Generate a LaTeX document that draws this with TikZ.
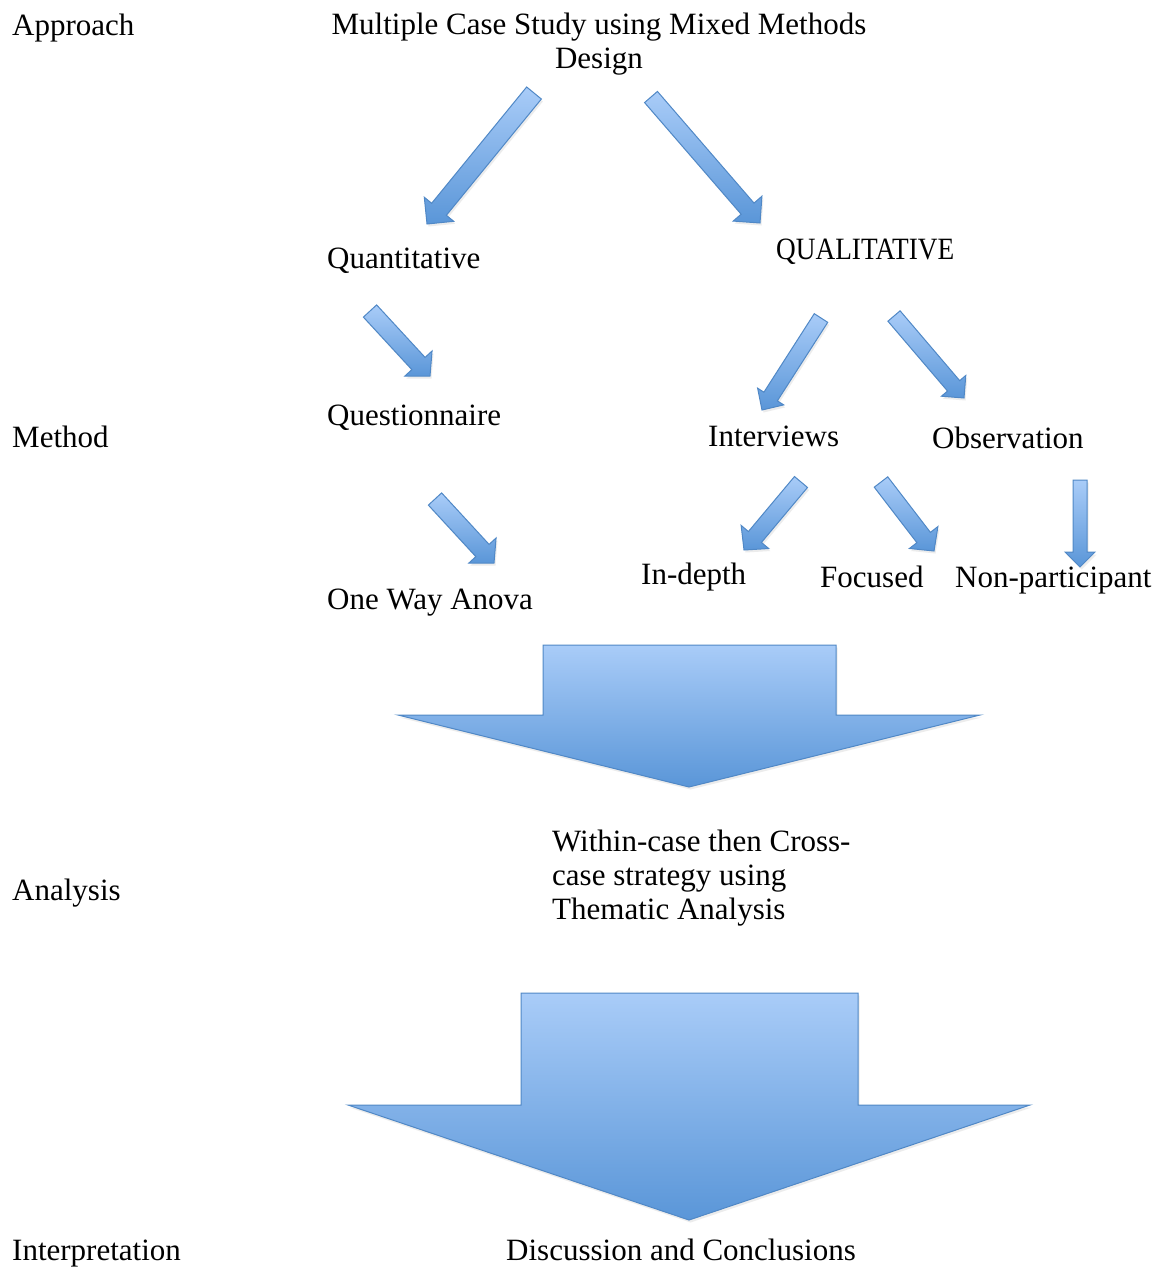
\documentclass[tikz,border=0pt]{standalone}
\usepackage{fontspec}
\setmainfont{Liberation Serif}
\usetikzlibrary{calc,shadows}

\definecolor{arrowtop}{HTML}{A9CCF8}
\definecolor{arrowbot}{HTML}{5A96D8}
\definecolor{arrowline}{HTML}{5088C6}

\tikzset{
  lbl/.style={anchor=base west, inner sep=0pt, font=\fontsize{31}{34}\selectfont},
  blockfill/.style={draw=arrowline, line width=1pt, line join=miter,
    top color=arrowtop, bottom color=arrowbot,
    drop shadow={opacity=0.15, shadow xshift=1.5pt, shadow yshift=-2.5pt}},
}

% block arrow from tail #1 to tip #2:
% #3 half shaft width, #4 half head width, #5 head length
\newcommand\blockarrow[5]{%
  \coordinate (#1-hb) at ($(#2)!#5!(#1)$);
  \path[blockfill]
    ($(#1)!#3!90:(#2)$) -- ($(#1-hb)!#3!-90:(#1)$) -- ($(#1-hb)!#4!-90:(#1)$)
    -- (#2)
    -- ($(#1-hb)!#4!90:(#1)$) -- ($(#1-hb)!#3!90:(#1)$) -- ($(#1)!#3!-90:(#2)$)
    -- cycle;
}

\begin{document}
\begin{tikzpicture}[x=1pt, y=-1pt]
  \useasboundingbox (0,0) rectangle (1170,1269);
  \fill[white] (0,0) rectangle (1170,1269);

  % stage labels on the left
  \node[lbl] (approach) at (12,35) {Approach};
  \node[lbl] (method) at (12,447) {Method};
  \node[lbl] (analysis) at (12,900) {Analysis};
  \node[lbl] (interp) at (12,1260) {Interpretation};

  % design (base anchor sits on the last line)
  \node[lbl, anchor=base, align=center] (design) at (599,68)
    {Multiple Case Study using Mixed Methods\\Design};

  % strands
  \node[lbl] (quant) at (327,268) {Quantitative};
  \node[lbl] (qual) at (776,259) {\scalebox{0.88}[1]{QUALITATIVE}};
  \node[lbl] (quest) at (327,425) {Questionnaire};
  \node[lbl] (anova) at (327,609) {One Way Anova};
  \node[lbl] (interv) at (708,446) {Interviews};
  \node[lbl] (observ) at (932,448) {Observation};
  \node[lbl] (indepth) at (641,584) {In-depth};
  \node[lbl] (focused) at (820,587) {Focused};
  \node[lbl] (nonpart) at (955,587) {Non-participant};

  % analysis and interpretation
  \node[lbl, align=left] (within) at (552,919)
    {Within-case then Cross-\\case strategy using\\Thematic Analysis};
  \node[lbl] (discuss) at (506,1260) {Discussion and Conclusions};

  % small block arrows
  \coordinate (a1) at (534,93);   \coordinate (a1e) at (427,224);
  \coordinate (a2) at (651,97);   \coordinate (a2e) at (760,223);
  \coordinate (a3) at (370,311);  \coordinate (a3e) at (430,376);
  \coordinate (a4) at (435,499);  \coordinate (a4e) at (494,563);
  \coordinate (a5) at (821,318);  \coordinate (a5e) at (762,410);
  \coordinate (a6) at (894,316);  \coordinate (a6e) at (964,398);
  \coordinate (a7) at (801,482);  \coordinate (a7e) at (744,550);
  \coordinate (a8) at (881,482);  \coordinate (a8e) at (934,551);
  \coordinate (a9) at (1080,480); \coordinate (a9e) at (1080,567);

  \blockarrow{a1}{a1e}{9.5pt}{19pt}{19pt}
  \blockarrow{a2}{a2e}{8.5pt}{19pt}{19pt}
  \blockarrow{a3}{a3e}{9pt}{18.5pt}{17pt}
  \blockarrow{a4}{a4e}{9pt}{18.5pt}{17pt}
  \blockarrow{a5}{a5e}{8pt}{15.5pt}{16pt}
  \blockarrow{a6}{a6e}{8pt}{16pt}{16pt}
  \blockarrow{a7}{a7e}{8.5pt}{18pt}{17pt}
  \blockarrow{a8}{a8e}{8.5pt}{18pt}{17pt}
  \blockarrow{a9}{a9e}{7pt}{15pt}{15pt}

  % large down arrows
  \path[blockfill] (543,645) -- (836,645) -- (836,715) -- (980,715)
    -- (689,787) -- (398,715) -- (543,715) -- cycle;
  \path[blockfill] (521,993) -- (858,993) -- (858,1105) -- (1030,1105)
    -- (689,1220) -- (348,1105) -- (521,1105) -- cycle;
\end{tikzpicture}
\end{document}
